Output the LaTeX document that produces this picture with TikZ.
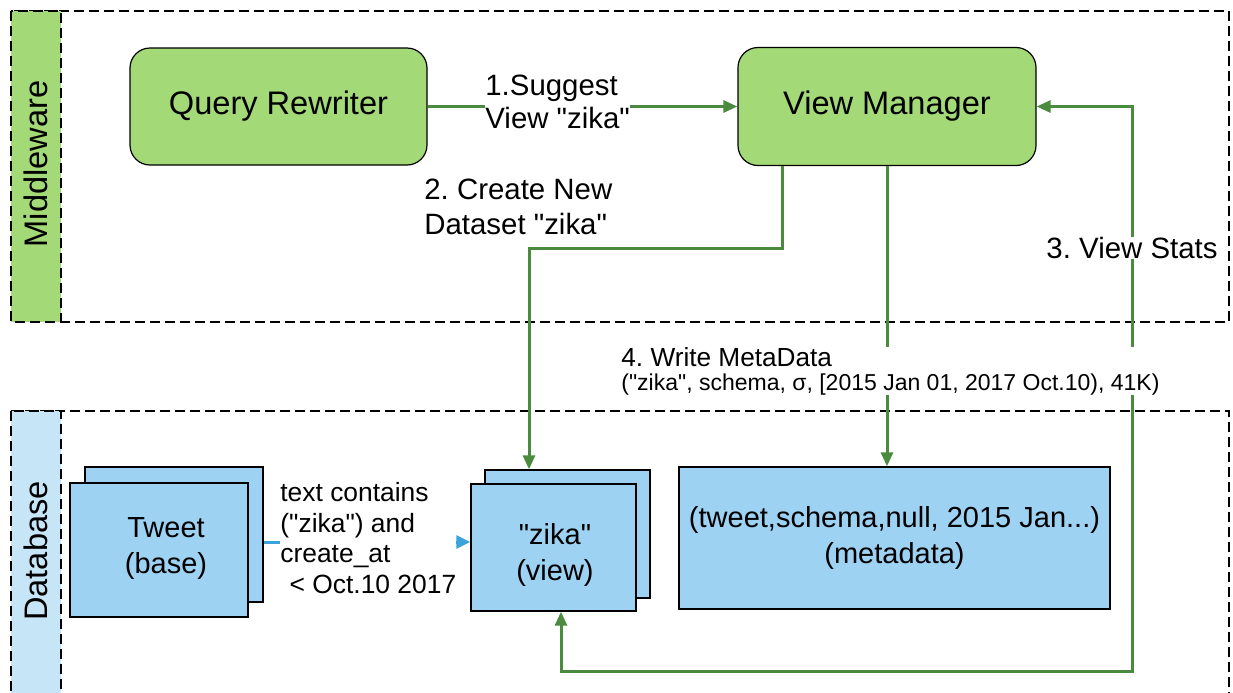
\documentclass[tikz,border=0pt]{standalone}
\usepackage{fontspec}
\setmainfont{Liberation Sans}[Ligatures=TeXOff]
\usetikzlibrary{arrows.meta,calc}
\frenchspacing
\definecolor{mwgreen}{HTML}{A3D977}
\definecolor{dbblue}{HTML}{9DD2F2}
\definecolor{dbstrip}{HTML}{C6E5F7}
\definecolor{flowgreen}{HTML}{4B8B3F}
\definecolor{flowblue}{HTML}{3BA3DC}
\tikzset{
  layer/.style={draw=black, line width=0.7pt, dash pattern=on 5pt off 2.5pt},
  strip/.style={draw=black, line width=0.7pt, dash pattern=on 5pt off 2.5pt},
  module/.style={draw=black, line width=0.6pt, fill=mwgreen, rounded corners=10pt,
    inner sep=0pt, font=\fontsize{16.3}{19}\selectfont},
  table/.style={draw=black, line width=0.7pt, fill=dbblue, inner sep=0pt,
    align=center, font=\fontsize{14.5}{18}\selectfont},
  flow/.style={draw=flowgreen, line width=1.5pt, -{Triangle[length=7pt,width=6pt]}},
  feed/.style={draw=flowblue, line width=1.5pt, -{Triangle[length=7pt,width=6.5pt]}},
  note/.style={inner sep=0pt, align=left, fill=white},
  layertitle/.style={rotate=90, font=\fontsize{16.3}{19}\selectfont},
}
\begin{document}
\begin{tikzpicture}[x=0.5pt,y=-0.5pt]
\useasboundingbox (0,0) rectangle (1233,692);
\clip (0,0) rectangle (1233,692);

% layers
\draw[layer] (11,11) rectangle (1229,322);
\draw[strip, fill=mwgreen] (11,11) rectangle (61,322);
\node[layertitle] (mwlabel) at (36,164) {Middleware};

\draw[layer] (11,411) rectangle (1229,720);
\draw[strip, fill=dbstrip] (11,411) rectangle (61,720);
\node[layertitle] (dblabel) at (36,551) {Database};

% middleware modules
\node[module, minimum width=148.5pt, minimum height=58.5pt] (qr) at (278.5,106.5) {Query Rewriter};
\node[module, minimum width=149pt, minimum height=59pt] (vm) at (887,106.5) {View Manager};

% database tables
\node[table, minimum width=89pt, minimum height=67.5pt] (tb) at (174,534.5) {};
\node[table, minimum width=89pt, minimum height=67pt] (tf) at (159,550) {};
\node (tweettext) [align=center, font=\fontsize{14.5}{18}\selectfont] at (166,549) {Tweet\\(base)};

\node[table, minimum width=82.5pt, minimum height=64pt] (vb) at (567.5,534) {};
\node[table, minimum width=82.5pt, minimum height=63.5pt] (vf) at (553.5,547.5) {};
\node (viewtext) [align=center, font=\fontsize{14.5}{18}\selectfont] at (555,555) {"zika"\\(view)};

\node[table, minimum width=215.5pt, minimum height=71pt] (md) at (894.5,538)
  {(tweet,schema,null, 2015 Jan...)\\(metadata)};

% connectors
\coordinate (c1) at (0,542);
\coordinate (c2) at (529,248);
\coordinate (c3) at (1132,671);

\draw[feed] (tb.east |- c1) -- (vf.west |- c1);
\draw[flow] (qr.east) -- (qr.east -| vm.west);
\draw[flow] ([xshift=22.5pt]vm.south west) |- (c2) -- (c2 |- vb.north);
\draw[flow] (vm.south) -- (vm.south |- md.north);
\draw[flow, {Triangle[length=7pt,width=6pt]}-{Triangle[length=7pt,width=6pt]}]
  ([xshift=3.75pt]vf.south) |- (c3) |- (vm.east);

% labels
\node[note, anchor=west, font=\fontsize{14.7}{16.5}\selectfont] (l1) at (485,102)
  {1.Suggest\\View "zika"};
\node[note, anchor=west, font=\fontsize{14.7}{17.5}\selectfont] (l2) at (424,207)
  {2. Create New\\Dataset "zika"};
\node[note, font=\fontsize{14.7}{17}\selectfont] (l3) at (1132,248) {3. View Stats};
\node[note, anchor=west] (l4) at (621,371)
  {\fontsize{13.1}{15}\selectfont 4. Write MetaData\\
   \fontsize{11.5}{15}\selectfont ("zika", schema, σ, [2015 Jan 01, 2017 Oct.10), 41K)};
\node[note, anchor=west, font=\fontsize{13.2}{15.3}\selectfont] (lf) at (280,538)
  {text contains\\("zika") and\\create\_at\\\hspace*{0.35em}< Oct.10 2017};
\end{tikzpicture}
\end{document}
